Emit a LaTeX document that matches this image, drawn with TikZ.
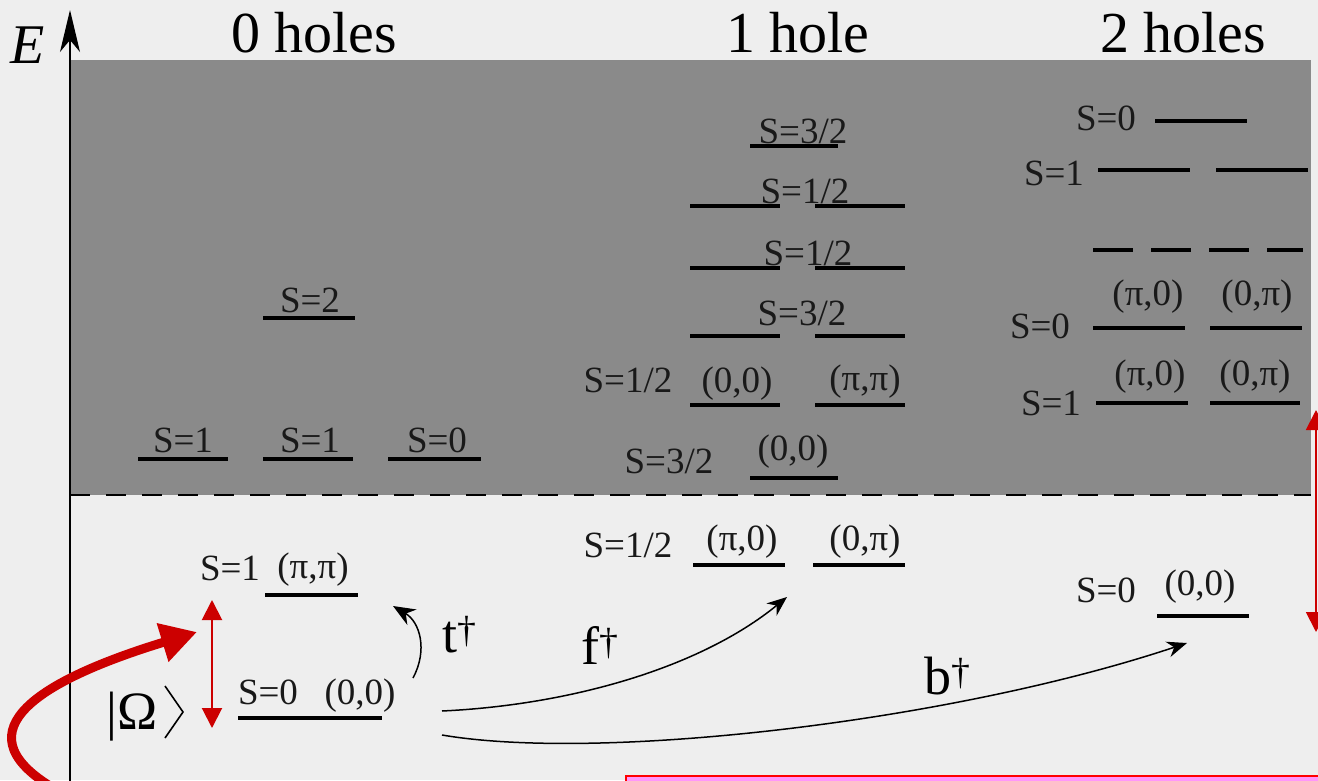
\documentclass[tikz,border=0pt]{standalone}
\usepackage{fontspec}
\setmainfont{Liberation Serif}
\usetikzlibrary{arrows.meta}
\definecolor{bg}{RGB}{238,238,238}
\definecolor{grayfill}{RGB}{138,138,138}
\definecolor{darkred}{RGB}{204,0,0}
\definecolor{pinkbox}{RGB}{255,150,250}
\begin{document}
\begin{tikzpicture}[x=1pt,y=-1pt,
  lbl/.style={inner sep=0pt, anchor=base, text=black!90, font=\fontsize{37}{40}\selectfont},
  head/.style={inner sep=0pt, anchor=base, font=\fontsize{58}{64}\selectfont},
  lev/.style={line width=4.5pt},
  op/.style={inner sep=0pt, anchor=base, font=\fontsize{54}{58}\selectfont},
  trans/.style={line width=1.5pt, -{Stealth[length=20pt,width=16pt]}},
  gap/.style={darkred, line width=2pt, {Triangle[length=20pt,width=20pt]}-{Triangle[length=20pt,width=20pt]}}
]
\useasboundingbox (0,0) rectangle (1318,780);
\fill[bg] (0,0) rectangle (1318,780);
\fill[grayfill] (70,60) rectangle (1311,495);
\draw[dash pattern=on 20pt off 16pt, line width=2pt] (70,495) -- (1311,495);
% pink box
\draw[draw=red, line width=2pt, fill=pinkbox] (626,776) rectangle (1330,800);
% energy axis
\coordinate (axb) at (70,782);
\coordinate (axt) at (70,10);
\draw[line width=1.5pt, -{Stealth[length=42pt,width=20pt,inset=12pt]}] (axb) -- (axt);
\node[inner sep=0pt, anchor=base, font=\fontsize{56}{60}\selectfont\itshape] (E) at (28,63) {E};
% headings
\node[head] (h0) at (314,52) {0 holes};
\node[head] (h1) at (798,52) {1 hole};
\node[head] (h2) at (1183,52) {2 holes};

% ---------- 0 holes ----------
\draw[lev] (263,318) -- (355,318);
\node[lbl] (a1) at (310,312) {S=2};
\draw[lev] (138,459) -- (228,459);
\draw[lev] (263,459) -- (353,459);
\draw[lev] (388,459) -- (481,459);
\node[lbl] (a2) at (183,452) {S=1};
\node[lbl] (a3) at (310,452) {S=1};
\node[lbl] (a4) at (437,452) {S=0};
\draw[lev] (265,595) -- (358,595);
\node[lbl] (a5) at (230,580) {S=1};
\node[lbl] (a6) at (313,578) {(π,π)};
\draw[lev] (238,718) -- (382,718);
\node[lbl] (a7) at (268,704) {S=0};
\node[lbl] (a8) at (360,704) {(0,0)};
% |Omega> ket
\node[inner sep=0pt, anchor=base west, font=\fontsize{54}{58}\selectfont] (omega) at (106,729) {|Ω};
\draw[line width=1.6pt, line join=miter] (165,686) -- (183,712) -- (165,738);

% ---------- 1 hole ----------
\draw[lev] (750,146) -- (838,146);
\node[lbl] (b1) at (803,143) {S=3/2};
\draw[lev] (690,206) -- (780,206);
\draw[lev] (815,206) -- (905,206);
\node[lbl] (b2) at (805,203) {S=1/2};
\draw[lev] (690,268) -- (780,268);
\draw[lev] (815,268) -- (905,268);
\node[lbl] (b3) at (808,265) {S=1/2};
\draw[lev] (690,336) -- (780,336);
\draw[lev] (815,336) -- (905,336);
\node[lbl] (b4) at (802,325) {S=3/2};
\draw[lev] (690,405) -- (780,405);
\draw[lev] (815,405) -- (905,405);
\node[lbl] (b5) at (628,392) {S=1/2};
\node[lbl] (b6) at (737,392) {(0,0)};
\node[lbl] (b7) at (865,390) {(π,π)};
\draw[lev] (750,478) -- (838,478);
\node[lbl] (b8) at (669,473) {S=3/2};
\node[lbl] (b9) at (793,460) {(0,0)};
\draw[lev] (693,565) -- (785,565);
\draw[lev] (813,565) -- (905,565);
\node[lbl] (b10) at (628,557) {S=1/2};
\node[lbl] (b11) at (742,550) {(π,0)};
\node[lbl] (b12) at (865,550) {(0,π)};

% ---------- 2 holes ----------
\draw[lev] (1155,121) -- (1247,121);
\node[lbl] (c1) at (1106,130) {S=0};
\draw[lev] (1098,170) -- (1190,170);
\draw[lev] (1216,170) -- (1308,170);
\node[lbl] (c2) at (1054,185) {S=1};
\draw[lev] (1093,250) -- (1133,250);
\draw[lev] (1151,250) -- (1191,250);
\draw[lev] (1209,250) -- (1249,250);
\draw[lev] (1267,250) -- (1303,250);
\draw[lev] (1093,328) -- (1185,328);
\draw[lev] (1210,328) -- (1302,328);
\node[lbl] (c3) at (1040,338) {S=0};
\node[lbl] (c4) at (1148,305) {(π,0)};
\node[lbl] (c5) at (1257,305) {(0,π)};
\draw[lev] (1096,403) -- (1188,403);
\draw[lev] (1210,403) -- (1300,403);
\node[lbl] (c6) at (1051,415) {S=1};
\node[lbl] (c7) at (1150,385) {(π,0)};
\node[lbl] (c8) at (1255,385) {(0,π)};
\draw[lev] (1157,616) -- (1249,616);
\node[lbl] (c9) at (1106,602) {S=0};
\node[lbl] (c10) at (1200,595) {(0,0)};

% ---------- transitions ----------
\coordinate (t0) at (413,678);
\coordinate (t1) at (393,606);
\draw[line width=1.5pt, -{Stealth[length=22pt,width=18pt]}] (t0) .. controls (428,650) and (420,622) .. (t1);
\node[op] (tl) at (460,652) {t\textsuperscript{†}};
\coordinate (f0) at (442,711);
\coordinate (f1) at (787,597);
\draw[trans] (f0) .. controls (570,705) and (700,668) .. (f1);
\node[op] (fl) at (600,664) {f\textsuperscript{†}};
\coordinate (g0) at (442,735);
\coordinate (g1) at (1187,643);
\draw[trans] (g0) .. controls (600,762) and (950,722) .. (g1);
\node[op] (bl) at (948,694) {b\textsuperscript{†}};

% ---------- red arrows ----------
\coordinate (r0) at (212,600);
\coordinate (r1) at (212,728);
\draw[gap] (r0) -- (r1);
\coordinate (s0) at (1316,410);
\coordinate (s1) at (1316,632);
\draw[gap] (s0) -- (s1);
\coordinate (k0) at (50,786);
\coordinate (k1) at (197,632);
\draw[darkred, line width=9pt, -{Triangle[length=36pt,width=38pt]}] (k0) .. controls (-40,730) and (40,680) .. (k1);
\end{tikzpicture}
\end{document}
